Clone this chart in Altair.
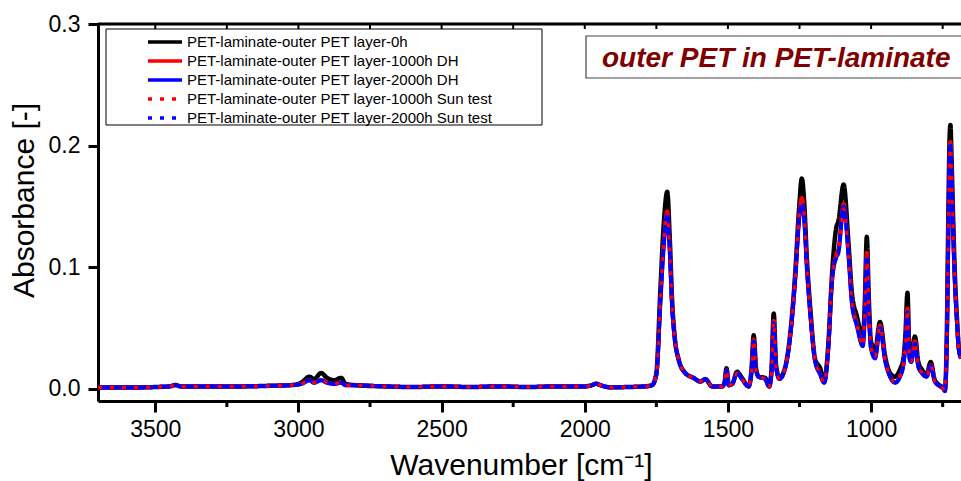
import altair as alt
import pandas as pd

FONT = "Liberation Sans"

wavenumber = [3700, 3600, 3500, 3450, 3430, 3410, 3300, 3200, 3100, 3030,
              3000, 2985, 2962, 2945, 2921, 2900, 2875, 2851, 2835, 2800,
              2700, 2600, 2500, 2400, 2300, 2200, 2100, 2000, 1975, 1960,
              1945, 1910, 1850, 1790, 1765, 1750, 1736, 1724, 1712, 1703,
              1695, 1686, 1672, 1649, 1620, 1596, 1579, 1555, 1520, 1512,
              1505, 1497, 1485, 1468, 1451, 1428, 1418, 1410, 1402, 1393,
              1370, 1356, 1348, 1340, 1332, 1320, 1300, 1282, 1265, 1251,
              1242, 1234, 1224, 1212, 1195, 1178, 1164, 1149, 1137, 1122,
              1114, 1096, 1079, 1067, 1050, 1029, 1022, 1015, 1008, 1001,
              986, 969, 951, 934, 916, 899, 887, 880, 873, 866,
              860, 847, 835, 823, 806, 792, 777, 748, 742, 736,
              730, 726, 723, 719, 714, 707, 700, 694, 686]

abs_0h = [.0010, .0010, .0015, .0020, .0032, .0020, .0020, .0020, .0025, .0030,
          .0040, .0060, .0100, .0080, .0130, .0090, .0070, .0090, .0040, .0030,
          .0020, .0015, .0020, .0015, .0020, .0015, .0020, .0020, .0030, .0042,
          .0030, .0012, .0015, .0020, .0030, .0130, .0810, .1360, .1620, .1230,
          .0730, .0430, .0240, .0130, .0090, .0060, .0080, .0020, .0020, .0050,
          .0170, .0030, .0040, .0140, .0090, .0020, .0150, .0440, .0180, .0100,
          .0090, .0020, .0150, .0620, .0200, .0090, .0180, .0460, .0950, .1500,
          .1730, .1550, .1060, .0650, .0240, .0170, .0060, .0380, .0920, .1320,
          .1380, .1680, .1200, .0790, .0600, .0430, .0700, .1250, .0750, .0400,
          .0320, .0550, .0270, .0130, .0100, .0160, .0250, .0450, .0790, .0300,
          .0260, .0430, .0220, .0160, .0120, .0220, .0070, .0010, .0000, .0380,
          .1470, .2050, .2170, .1900, .1450, .0920, .0580, .0350, .0260]

abs_1000h_dh = [.0010, .0010, .0015, .0020, .0030, .0020, .0020, .0020, .0025, .0030,
                .0036, .0046, .0072, .0052, .0072, .0052, .0042, .0052, .0030, .0030,
                .0020, .0015, .0020, .0015, .0020, .0015, .0020, .0020, .0030, .0042,
                .0030, .0012, .0015, .0020, .0030, .0115, .0720, .1210, .1460, .1140,
                .0690, .0425, .0240, .0130, .0090, .0060, .0080, .0020, .0020, .0050,
                .0155, .0030, .0040, .0130, .0080, .0020, .0135, .0405, .0165, .0100,
                .0080, .0020, .0135, .0560, .0185, .0080, .0170, .0445, .0910, .1430,
                .1570, .1430, .1000, .0610, .0225, .0125, .0050, .0355, .0880, .1100,
                .1150, .1520, .1120, .0720, .0540, .0360, .0620, .1120, .0670, .0350,
                .0260, .0520, .0240, .0105, .0055, .0105, .0205, .0380, .0660, .0260,
                .0225, .0390, .0185, .0135, .0100, .0195, .0060, .0000, -.0015, .0340,
                .1330, .1910, .2030, .1780, .1350, .0860, .0550, .0335, .0255]

abs_2000h_dh = [.0010, .0010, .0015, .0020, .0030, .0020, .0020, .0020, .0025, .0030,
                .0035, .0045, .0070, .0050, .0070, .0050, .0040, .0050, .0030, .0030,
                .0020, .0015, .0020, .0015, .0020, .0015, .0020, .0020, .0030, .0042,
                .0030, .0012, .0015, .0020, .0030, .0110, .0700, .1180, .1430, .1120,
                .0680, .0420, .0240, .0130, .0090, .0060, .0080, .0020, .0020, .0050,
                .0150, .0030, .0040, .0130, .0080, .0020, .0130, .0390, .0160, .0100,
                .0080, .0020, .0130, .0540, .0180, .0080, .0170, .0440, .0900, .1400,
                .1530, .1400, .0980, .0600, .0220, .0120, .0050, .0350, .0870, .1080,
                .1120, .1500, .1100, .0700, .0520, .0350, .0600, .1090, .0650, .0340,
                .0250, .0500, .0230, .0100, .0050, .0100, .0200, .0370, .0630, .0250,
                .0220, .0370, .0180, .0130, .0100, .0190, .0060, .0000, -.0020, .0330,
                .1300, .1880, .2000, .1750, .1330, .0850, .0540, .0330, .0250]

abs_1000h_sun = [.0010, .0010, .0015, .0020, .0030, .0020, .0020, .0020, .0025, .0030,
                 .0036, .0046, .0071, .0051, .0071, .0051, .0041, .0051, .0030, .0030,
                 .0020, .0015, .0020, .0015, .0020, .0015, .0020, .0020, .0030, .0042,
                 .0030, .0012, .0015, .0020, .0030, .0112, .0710, .1200, .1450, .1130,
                 .0685, .0425, .0240, .0130, .0090, .0060, .0080, .0020, .0020, .0050,
                 .0155, .0030, .0040, .0130, .0080, .0020, .0135, .0400, .0165, .0100,
                 .0080, .0020, .0135, .0550, .0185, .0080, .0170, .0445, .0905, .1420,
                 .1580, .1440, .0990, .0605, .0225, .0125, .0050, .0355, .0875, .1090,
                 .1140, .1480, .1100, .0710, .0530, .0355, .0610, .1100, .0660, .0345,
                 .0255, .0510, .0235, .0100, .0055, .0105, .0205, .0375, .0650, .0255,
                 .0225, .0380, .0185, .0135, .0100, .0195, .0060, .0000, -.0015, .0335,
                 .1320, .1900, .2030, .1770, .1340, .0855, .0545, .0335, .0255]

abs_2000h_sun = [.0010, .0010, .0015, .0020, .0030, .0020, .0020, .0020, .0025, .0030,
                 .0035, .0045, .0070, .0050, .0070, .0050, .0040, .0050, .0030, .0030,
                 .0020, .0015, .0020, .0015, .0020, .0015, .0020, .0020, .0030, .0042,
                 .0030, .0012, .0015, .0020, .0030, .0110, .0700, .1170, .1410, .1110,
                 .0680, .0420, .0240, .0130, .0090, .0060, .0080, .0020, .0020, .0050,
                 .0150, .0030, .0040, .0130, .0080, .0020, .0130, .0390, .0160, .0100,
                 .0080, .0020, .0130, .0540, .0180, .0080, .0170, .0440, .0895, .1390,
                 .1510, .1390, .0970, .0595, .0220, .0120, .0050, .0350, .0865, .1070,
                 .1110, .1480, .1090, .0700, .0520, .0350, .0600, .1070, .0640, .0340,
                 .0250, .0500, .0230, .0100, .0050, .0100, .0200, .0365, .0620, .0250,
                 .0220, .0370, .0180, .0130, .0100, .0190, .0060, .0000, -.0020, .0330,
                 .1290, .1870, .1980, .1740, .1320, .0845, .0540, .0330, .0250]

series_names = ["PET-laminate-outer PET layer-0h",
                "PET-laminate-outer PET layer-1000h DH",
                "PET-laminate-outer PET layer-2000h DH",
                "PET-laminate-outer PET layer-1000h Sun test",
                "PET-laminate-outer PET layer-2000h Sun test"]
series_values = [abs_0h, abs_1000h_dh, abs_2000h_dh, abs_1000h_sun, abs_2000h_sun]
series_colors = ["#000000", "#ff0000", "#0000ff", "#ff0000", "#0000ff"]
series_dash = [[1, 0], [1, 0], [1, 0], [4, 8], [4, 8]]
series_width = [4.5, 4, 4, 3, 3]
draw_order = [0, 1, 2, 4, 3]

x_major = [3500, 3000, 2500, 2000, 1500, 1000]
x_minor = [3250, 2750, 2250, 1750, 1250, 750]
x_top = [3500, 3250, 3000, 2750, 2500, 2250, 2000, 1750, 1500, 1250, 1000, 750]
y_ticks = [0.0, 0.1, 0.2, 0.3]
x_domain = [3700, 686]
y_domain = [-0.01, 0.3]

title_text = "outer PET in PET-laminate"
x_title = "Wavenumber [cm\u207b\u00b9]"
y_title = "Absorbance [-]"

rows = []
for k in draw_order:
    for i, (w, a) in enumerate(zip(wavenumber, series_values[k])):
        rows.append({"wn": w, "A": a, "series": series_names[k],
                     "lw": series_width[k], "idx": i})
df = pd.DataFrame(rows)

W, H = 863, 377
xscale = alt.Scale(domain=x_domain, nice=False, zero=False)
yscale = alt.Scale(domain=y_domain, nice=False, zero=False)

x_axis = alt.Axis(
    values=x_major, format="d", tickSize=11, tickWidth=3, tickColor="black",
    domainWidth=3, domainColor="black", labelFontSize=23, labelFont=FONT,
    labelColor="black", labelPadding=6, labelFlush=False, grid=False,
    title=x_title, titleFontSize=30, titleFont=FONT, titleFontWeight="normal",
    titleColor="black", titleX=423, titleY=73, titleBaseline="alphabetic",
    titleAlign="center")

y_axis = alt.Axis(
    values=y_ticks, format=".1f", tickSize=10, tickWidth=3, tickColor="black",
    domainWidth=3, domainColor="black", labelFontSize=23, labelFont=FONT,
    labelColor="black", labelPadding=8, labelFlush=False, grid=False,
    title=y_title, titleFontSize=30, titleFont=FONT, titleFontWeight="normal",
    titleColor="black", titleX=-74, titleY=176, titleAngle=270,
    titleBaseline="middle", titleAlign="center")

leg = alt.Legend(title=None, orient="none", legendX=0, legendY=10.5,
                 symbolType="M-3.4,0H3.4", symbolSize=100, symbolStrokeWidth=3.5,
                 symbolOffset=59.5, labelOffset=14.5, labelFontSize=15, labelFont=FONT,
                 labelLimit=0, rowPadding=3, padding=0, labelColor="black")

lines = alt.Chart(df).mark_line(interpolate="monotone").encode(
    x=alt.X("wn:Q", scale=xscale, axis=x_axis),
    y=alt.Y("A:Q", scale=yscale, axis=y_axis),
    color=alt.Color("series:N", scale=alt.Scale(domain=series_names, range=series_colors), legend=leg),
    strokeDash=alt.StrokeDash("series:N", scale=alt.Scale(domain=series_names, range=series_dash), legend=leg),
    strokeWidth=alt.StrokeWidth("lw:Q", scale=None),
    order=alt.Order("idx:Q"),
)

one = alt.Data(values=[{}])

legend_box = alt.Chart(one).mark_rect(fill="white", stroke="black", strokeWidth=1).encode(
    x=alt.value(8), x2=alt.value(444), y=alt.value(5), y2=alt.value(101))

title_box = alt.Chart(one).mark_rect(fill="white", stroke="#444444", strokeWidth=1.2).encode(
    x=alt.value(488), x2=alt.value(900), y=alt.value(12), y2=alt.value(54))

title_mark = alt.Chart(one).mark_text(
    align="left", baseline="alphabetic", font=FONT, fontSize=28,
    fontStyle="italic", fontWeight="bold", color="#800000").encode(
    x=alt.value(504), y=alt.value(43), text=alt.value(title_text))

minor = alt.Chart(pd.DataFrame({"wn": x_minor})).mark_rule(color="black", strokeWidth=3).encode(
    x=alt.X("wn:Q", scale=xscale, axis=x_axis), y=alt.value(H), y2=alt.value(H + 6))

top_frame = alt.Chart(one).mark_rule(color="black", strokeWidth=3).encode(
    x=alt.value(0), x2=alt.value(W), y=alt.value(0))

top_ticks = alt.Chart(pd.DataFrame({"wn": x_top})).mark_rule(color="black", strokeWidth=2).encode(
    x=alt.X("wn:Q", scale=xscale, axis=x_axis), y=alt.value(0), y2=alt.value(5))

chart = alt.layer(legend_box, title_box, title_mark, lines, minor, top_frame, top_ticks).properties(
    width=W, height=H,
    autosize=alt.AutoSizeParams(type="none"),
    padding={"left": 98, "top": 24, "right": 0, "bottom": 80},
    background="white",
).configure_view(stroke=None)

chart.save("out.html", embed_options={"renderer": "svg", "actions": False})
